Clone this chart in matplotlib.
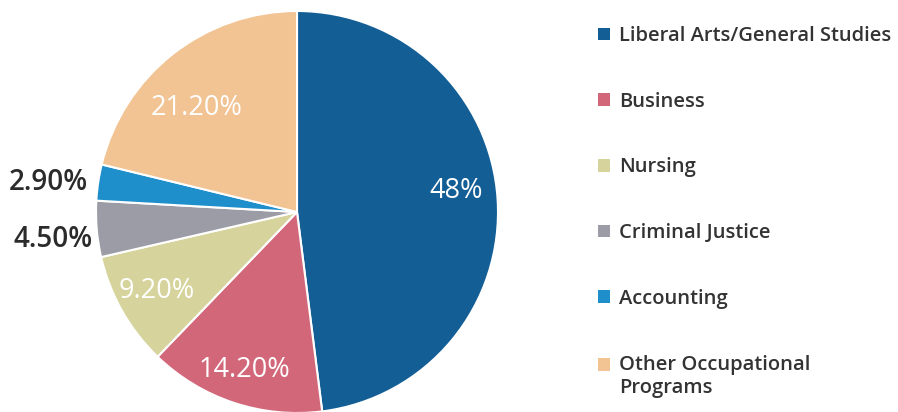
import numpy as np
import matplotlib
matplotlib.use("Agg")
import matplotlib.pyplot as plt
from matplotlib.patches import Patch

# Programme shares (%)
programs = ["Liberal Arts/General Studies", "Business", "Nursing",
            "Criminal Justice", "Accounting", "Other Occupational\nPrograms"]
shares = [48, 14.2, 9.2, 4.5, 2.9, 21.2]
pct_labels = ["48%", "14.20%", "9.20%", "4.50%", "2.90%", "21.20%"]
colors = ["#145e96", "#d2677a", "#d6d49c", "#9b9ca6", "#1f8fcc", "#f2c393"]

plt.rcParams['font.family'] = ['Open Sans', 'DejaVu Sans']

fig = plt.figure(figsize=(8.98, 4.12), dpi=100)
ax = fig.add_axes([96/898, -1/412, 402/898, 402/412])

wedges, _ = ax.pie(shares, colors=colors, startangle=90, counterclock=False,
                   radius=1, wedgeprops=dict(edgecolor="white", linewidth=1.5))
ax.set_xlim(-1, 1)
ax.set_ylim(-1, 1)
ax.set_aspect("equal")
ax.axis("off")

# label nudges (radius, angle shift in degrees)
nudge = {"48%": (0.8, 4), "14.20%": (0.83, 0), "9.20%": (0.8, 0),
         "21.20%": (0.72, 6)}
# outside labels (x radius, y shift)
outside = {"4.50%": (1.02, -0.05), "2.90%": (1.05, -0.01)}

for w, lab in zip(wedges, pct_labels):
    mid = (w.theta1 + w.theta2) / 2
    if lab in outside:
        rx, dy = outside[lab]
        a = np.deg2rad(mid)
        ax.text(np.cos(a) * rx, np.sin(a) * 1.05 + dy, lab, ha="right",
                va="center", fontsize=20, color="#2b2b2b",
                fontweight="semibold")
    else:
        r, da = nudge[lab]
        a = np.deg2rad(mid + da)
        ax.text(np.cos(a) * r, np.sin(a) * r, lab, ha="center",
                va="center", fontsize=19.5, color="white")

handles = [Patch(facecolor=c, edgecolor="none") for c in colors]
leg = fig.legend(handles, programs, loc="upper left",
                 bbox_to_anchor=(598/898, 1 - 26/412),
                 frameon=False, labelspacing=2.27, handlelength=0.6,
                 handleheight=0.6, handletextpad=0.45, borderpad=0,
                 borderaxespad=0,
                 prop=dict(family=['Open Sans', 'DejaVu Sans'],
                           weight='semibold', size=14.5),
                 labelcolor="#333333")
# two-line entry: keep its square level with the first line
last = leg.legend_handles[-1]
last.set_y(last.get_y() + 8.5)

fig.savefig("out.png", dpi=100)
